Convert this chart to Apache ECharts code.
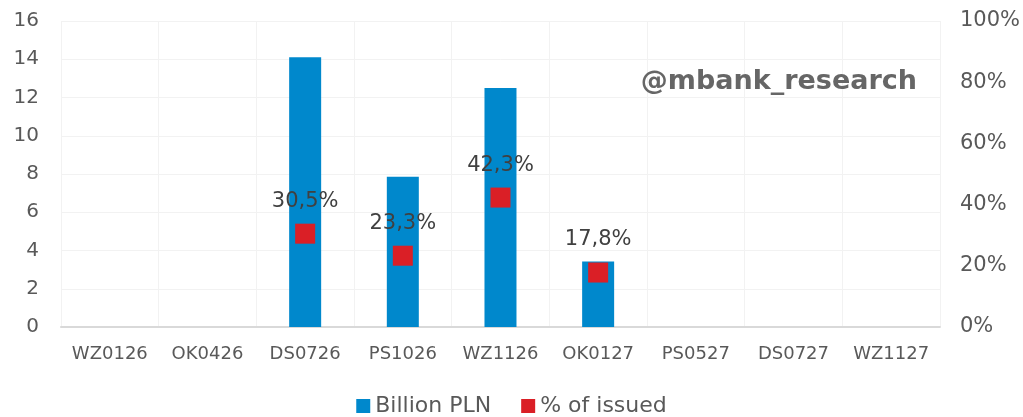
<html>
<head>
    <meta charset="utf-8">
    <title>Bonds</title>
    <script src="https://cdn.jsdelivr.net/npm/echarts@6.0.0/dist/echarts.min.js"></script>
</head>
<body style="margin:0">
    <div id="chart" style="width: 1023px; height: 417px;"></div>
    <script type="text/javascript">
        var categories = ['WZ0126', 'OK0426', 'DS0726', 'PS1026', 'WZ1126', 'OK0127', 'PS0527', 'DS0727', 'WZ1127'];
        var billionPln = [null, null, 14.1, 7.85, 12.5, 3.43, null, null, null];
        var pctIssued = [null, null, 30.5, 23.3, 42.3, 17.8, null, null, null];

        var font = '"DejaVu Sans", sans-serif';
        var chart = echarts.init(document.getElementById('chart'));
        var option = {
            animation: false,
            textStyle: { fontFamily: font },
            grid: { left: 61, right: 83, top: 21, bottom: 90, containLabel: false },
            legend: {
                bottom: -5,
                itemWidth: 14,
                itemHeight: 14,
                itemGap: 30,
                icon: 'rect',
                textStyle: { fontSize: 22, color: '#595959', fontFamily: font },
                data: ['Billion PLN', '% of issued']
            },
            graphic: [{
                type: 'text',
                right: 106,
                top: 68,
                z: 100,
                style: { text: '@mbank_research', fontSize: 27, fontWeight: 'bold', fill: '#666666', fontFamily: font }
            }],
            xAxis: {
                type: 'category',
                data: categories,
                axisLine: { lineStyle: { color: '#d9d9d9', width: 2 } },
                axisTick: { show: false },
                axisLabel: { fontSize: 18, color: '#595959', margin: 18, interval: 0 },
                splitLine: { show: true, interval: 0, lineStyle: { color: '#f2f2f2' } }
            },
            yAxis: [{
                type: 'value', min: 0, max: 16, interval: 2,
                axisLabel: { fontSize: 20, color: '#595959', margin: 22 },
                splitLine: { lineStyle: { color: '#f2f2f2' } }
            }, {
                type: 'value', min: 0, max: 100, interval: 20,
                axisLabel: { fontSize: 21, color: '#595959', formatter: '{value}%', margin: 20 },
                splitLine: { show: false }
            }],
            series: [{
                name: 'Billion PLN',
                type: 'bar',
                data: billionPln,
                barWidth: 32,
                itemStyle: { color: '#0088CC' }
            }, {
                name: '% of issued',
                type: 'scatter',
                yAxisIndex: 1,
                data: pctIssued,
                symbol: 'rect',
                symbolSize: 20,
                itemStyle: { color: '#DA1F26', opacity: 1 },
                label: {
                    show: true,
                    position: 'top',
                    distance: 12,
                    fontSize: 21,
                    color: '#404040',
                    formatter: function (p) { return p.value.toFixed(1).replace('.', ',') + '%'; }
                }
            }]
        };
        chart.setOption(option);
    </script>
</body>
</html>
